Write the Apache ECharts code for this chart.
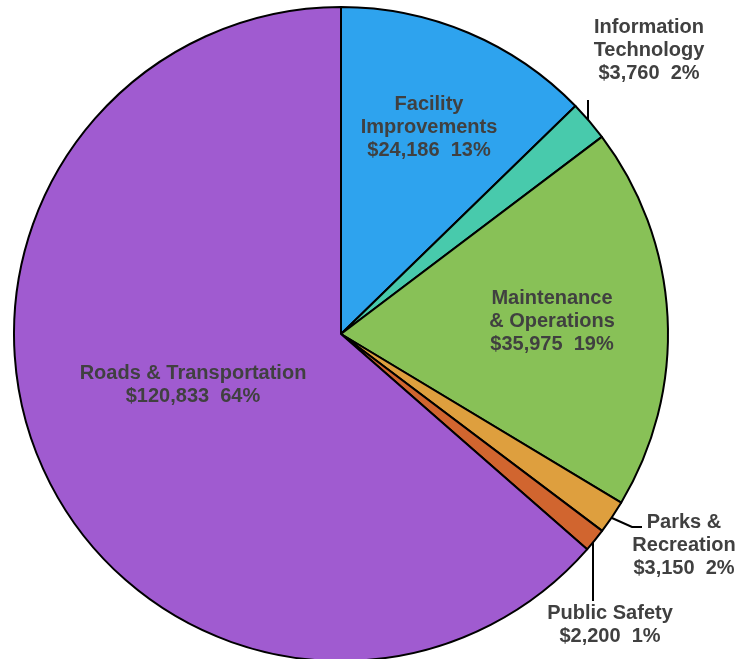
<!DOCTYPE html>
<html>
<head>
<meta charset="utf-8">
<script src="https://cdn.jsdelivr.net/npm/echarts@6/dist/echarts.min.js"></script>
<style>
  html, body { margin: 0; padding: 0; background: #fff; }
  #main { width: 754px; height: 659px; }
</style>
</head>
<body>
<div id="main"></div>
<script>
// slices, clockwise from 12 o'clock
var categories = ["Facility Improvements", "Information Technology", "Maintenance & Operations",
  "Parks & Recreation", "Public Safety", "Roads & Transportation"];
var labelNames = ["Facility\nImprovements", "Information\nTechnology", "Maintenance\n& Operations",
  "Parks &\nRecreation", "Public Safety", "Roads & Transportation"];
var amounts = [24186, 3760, 35975, 3150, 2200, 120833];
var colors = ["#2EA3EE", "#48CAAC", "#88C157", "#DE9F3E", "#D1652F", "#A05BD0"];

// where each label sits (Excel put them by hand)
var labelSpots = [
  { x: 429, y: 127 },
  { x: 649, y: 50, line: [[588, 122], [588, 100], [588, 100]] },
  { x: 552, y: 321 },
  { x: 684, y: 545, line: [[612, 518], [632, 527], [642, 527]] },
  { x: 610, y: 625, line: [[593, 540], [593, 601], [593, 601]] },
  { x: 193, y: 385 }
];

var total = amounts.reduce(function (a, b) { return a + b; }, 0);
var outside = [false, true, false, true, true, false];

var chart = echarts.init(document.getElementById("main"));

var pieData = categories.map(function (c, i) {
  return {
    name: c,
    value: amounts[i],
    itemStyle: { color: colors[i] },
    label: { position: outside[i] ? "outside" : "inside" },
    labelLine: { show: outside[i] }
  };
});

var option = {
  animation: false,
  series: [
    {
      type: "pie",
      center: [341, 334],
      radius: 327,
      startAngle: 90,
      clockwise: true,
      data: pieData,
      itemStyle: { borderColor: "#000", borderWidth: 2 },
      label: {
        show: true,
        color: "#404040",
        fontFamily: "Liberation Sans, Arial, sans-serif",
        fontWeight: "bold",
        fontSize: 20,
        lineHeight: 23,
        align: "center",
        overflow: "none",
        bleedMargin: 0,
        formatter: function (p) {
          var pct = Math.round(p.value / total * 100);
          return labelNames[p.dataIndex] + "\n$" + p.value.toLocaleString("en-US") + "  " + pct + "%";
        }
      },
      labelLine: {
        lineStyle: { color: "#000", width: 2 }
      },
      labelLayout: function (params) {
        var s = labelSpots[params.dataIndex];
        var out = { x: s.x, y: s.y, align: "center", verticalAlign: "middle" };
        if (s.line) out.labelLinePoints = s.line;
        return out;
      }
    }
  ]
};

chart.setOption(option);
</script>
</body>
</html>
